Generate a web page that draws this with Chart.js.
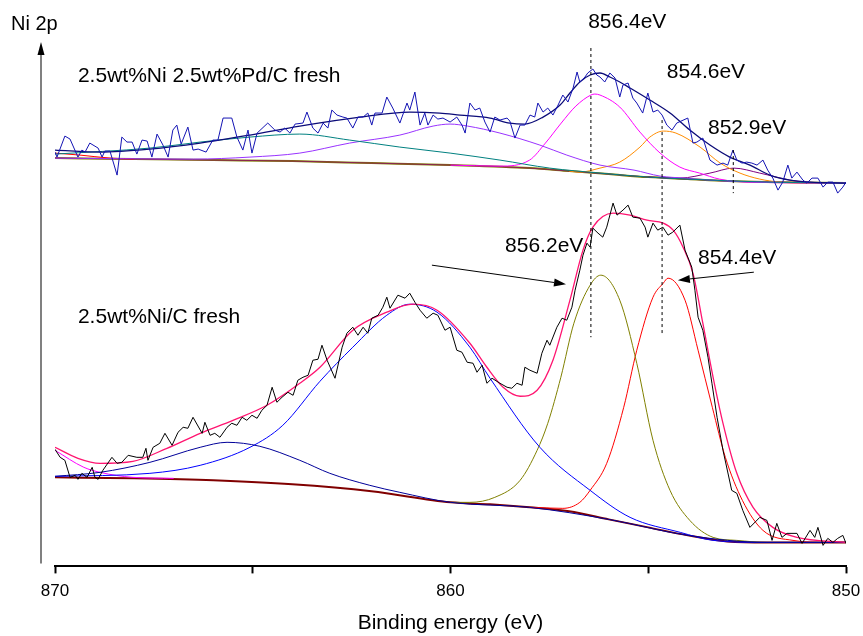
<!DOCTYPE html>
<html>
<head>
<meta charset="utf-8">
<script src="https://cdn.jsdelivr.net/npm/chart.js@4.4.0/dist/chart.umd.min.js"></script>
<style>
  html, body { margin: 0; padding: 0; background: #fff; }
</style>
</head>
<body>
<canvas id="xps" width="863" height="636"></canvas>
<script>
// --- x axis (binding energy, eV) ---
const xTicks = [870, 865, 860, 855, 850];

// --- Top spectrum: 2.5wt%Ni 2.5wt%Pd/C fresh ---
const topRawE = [
  870.00, 869.95, 869.75, 869.62, 869.42, 869.32, 869.24, 869.12, 868.91, 868.81,
  868.74, 868.61, 868.43, 868.31, 868.18, 868.05, 867.93, 867.80, 867.67, 867.55,
  867.42, 867.27, 867.14, 867.02, 866.92, 866.81, 866.64, 866.51, 866.38, 866.18,
  866.01, 865.88, 865.75, 865.53, 865.40, 865.25, 865.12, 865.02, 864.89, 864.62,
  864.44, 864.31, 864.19, 864.06, 863.93, 863.73, 863.63, 863.48, 863.35, 863.22,
  863.10, 863.00, 862.87, 862.72, 862.62, 862.47, 862.34, 862.21, 862.09, 861.99,
  861.91, 861.73, 861.61, 861.46, 861.28, 861.10, 861.03, 860.90, 860.77, 860.65,
  860.57, 860.44, 860.32, 860.19, 860.01, 859.84, 859.71, 859.63, 859.51, 859.38,
  859.26, 859.13, 859.00, 858.88, 858.75, 858.57, 858.50, 858.37, 858.24, 858.12,
  857.99, 857.87, 857.79, 857.66, 857.54, 857.41, 857.28, 857.16, 857.03, 856.90,
  856.80, 856.73, 856.60, 856.53, 856.40, 856.30, 856.22, 856.10, 855.97, 855.84,
  855.72, 855.64, 855.51, 855.39, 855.29, 855.14, 855.01, 854.88, 854.76, 854.65,
  854.53, 854.40, 854.28, 854.00, 853.87, 853.77, 853.62, 853.44, 853.26, 853.11,
  852.99, 852.86, 852.76, 852.63, 852.51, 852.38, 852.25, 852.10, 851.98, 851.85,
  851.72, 851.60, 851.47, 851.37, 851.24, 851.09, 850.99, 850.86, 850.71, 850.58,
  850.46, 850.33, 850.21, 850.08, 850.00
];
const topRawI = [
  414, 409, 430, 427, 409, 416, 414, 423, 418, 409,
  415, 415, 391, 429, 424, 424, 412, 426, 425, 409,
  432, 421, 409, 436, 441, 422, 439, 416, 417, 414,
  426, 426, 448, 448, 429, 416, 436, 413, 433, 443,
  436, 434, 438, 433, 442, 443, 454, 438, 433, 443,
  438, 456, 451, 449, 448, 438, 449, 449, 453, 441,
  453, 453, 469, 458, 443, 463, 456, 474, 441, 453,
  441, 451, 447, 448, 444, 449, 441, 433, 463, 456,
  458, 444, 434, 449, 446, 448, 445, 428, 441, 441,
  451, 449, 463, 454, 458, 451, 461, 471, 464, 478,
  494, 484, 489, 493, 497, 491, 489, 484, 493, 488,
  469, 481, 483, 468, 463, 453, 473, 454, 456, 451,
  441, 436, 443, 448, 423, 424, 428, 406, 401, 403,
  401, 416, 406, 403, 404, 403, 401, 406, 396, 388,
  376, 384, 401, 388, 394, 386, 383, 388, 388, 379,
  384, 384, 373, 379, 384
];
const topFitE = [870.00, 868.86, 867.60, 866.33, 865.07, 863.81, 862.29, 861.03, 860.27, 859.76,
  859.00, 858.50, 858.12, 857.66, 857.23, 856.98, 856.73, 856.47, 856.22, 855.97,
  855.72, 855.46, 854.96, 854.45, 853.95, 853.44, 852.94, 852.43, 851.92, 851.42, 850.91, 850.00];
const topFitI = [416, 414, 417, 423, 431, 440, 449, 454, 453, 451,
  448, 443, 442, 449, 461, 473, 484, 491, 493, 489,
  484, 478, 466, 453, 436, 421, 409, 401, 391, 386, 384, 383];
const topBaseE = [870, 868, 866, 864, 862, 860, 858, 857, 856, 855, 854, 853, 852, 850];
const topBaseI = [408, 407, 406, 405, 403, 401, 398, 395, 392, 389, 387, 385, 384, 383];
const topTealE = [870, 867.60, 866.33, 865.07, 863.81, 862.55, 861.28, 860.01, 858.75, 857.49, 856.22, 855, 854, 852, 850];
const topTealI = [412, 418, 424, 429, 432, 426, 419, 413, 406, 398, 393, 389, 387, 384, 383];
const topVioletE = [870, 866.5, 865.07, 863.81, 862.55, 861.28, 860.44, 860.01, 859.57, 858.75,
  857.74, 857.06, 856.22, 855.36, 854.70, 854.09, 853, 852, 850];
const topVioletI = [408, 407, 409, 413, 423, 431, 440, 442, 440, 433,
  421, 411, 401, 396, 390, 388, 385, 384, 383];
const topMagentaE = [860, 858.75, 858.0, 857.6, 857.2, 856.83, 856.45, 856.35, 856.22, 855.72,
  855.21, 854.70, 854.2, 853.7, 853.2, 852.5, 850];
const topMagentaI = [401, 400, 406, 423, 443, 460, 471, 472, 471, 459,
  434, 413, 399, 393, 387, 384, 383];
const topOrangeE = [857, 856.73, 856.22, 855.72, 855.21, 854.96, 854.62, 854.30, 853.69, 853.18,
  852.68, 852.18, 851.67, 851, 850];
const topOrangeI = [395, 394, 398, 404, 419, 429, 435, 433, 419, 403,
  393, 387, 384, 383, 383];
const topPurpleE = [855, 854.2, 853.44, 852.84, 852.18, 851.42, 851, 850];
const topPurpleI = [389, 388, 393, 398, 393, 386, 384, 383];
const topRedE = [870, 869.37, 868.61, 868];
const topRedI = [413, 411, 408, 407];

// --- Bottom spectrum: 2.5wt%Ni/C fresh ---
const botRawE = [
  870.00, 869.87, 869.75, 869.62, 869.49, 869.42, 869.32, 869.19, 869.06, 868.99,
  868.91, 868.79, 868.56, 868.43, 868.31, 868.15, 867.93, 867.78, 867.70, 867.65,
  867.52, 867.35, 867.22, 867.04, 866.89, 866.76, 866.64, 866.51, 866.28, 866.21,
  866.08, 865.96, 865.83, 865.65, 865.53, 865.40, 865.27, 865.15, 865.02, 864.89,
  864.77, 864.64, 864.51, 864.39, 864.26, 864.11, 863.98, 863.86, 863.73, 863.60,
  863.48, 863.35, 863.25, 863.12, 862.92, 862.74, 862.62, 862.47, 862.34, 862.21,
  862.09, 861.99, 861.83, 861.71, 861.61, 861.53, 861.33, 861.15, 861.03, 860.90,
  860.77, 860.60, 860.44, 860.32, 860.14, 860.01, 859.84, 859.71, 859.58, 859.43,
  859.33, 859.20, 859.08, 858.95, 858.75, 858.57, 858.45, 858.32, 858.19, 858.12,
  857.99, 857.81, 857.69, 857.56, 857.49, 857.31, 857.18, 857.06, 856.93, 856.85,
  856.73, 856.65, 856.55, 856.47, 856.40, 856.27, 856.15, 856.05, 855.89, 855.79,
  855.64, 855.51, 855.39, 855.21, 855.08, 855.01, 854.88, 854.76, 854.63, 854.50,
  854.38, 854.20, 854.07, 853.90, 853.82, 853.74, 853.62, 853.49, 853.39, 853.26,
  853.11, 852.89, 852.76, 852.61, 852.43, 852.18, 852.00, 851.87, 851.75, 851.62,
  851.49, 851.24, 851.11, 850.91, 850.79, 850.71, 850.58, 850.46, 850.33, 850.21,
  850.08, 850.00
];
const botRawI = [
  117, 109, 106, 89, 91, 87, 93, 89, 99, 89,
  87, 96, 109, 103, 104, 111, 109, 109, 118, 106,
  119, 123, 133, 121, 134, 139, 138, 149, 133, 144,
  131, 133, 129, 139, 143, 141, 149, 146, 151, 148,
  156, 161, 179, 164, 169, 174, 171, 186, 189, 191,
  206, 207, 221, 206, 188, 219, 233, 239, 231, 239,
  233, 248, 251, 259, 269, 258, 271, 268, 273, 264,
  256, 248, 253, 251, 236, 239, 216, 214, 204, 203,
  194, 201, 183, 188, 183, 179, 178, 183, 181, 199,
  196, 193, 213, 226, 221, 239, 248, 246, 259, 276,
  296, 311, 323, 319, 338, 333, 329, 339, 363, 351,
  356, 361, 349, 348, 339, 329, 343, 336, 339, 331,
  334, 341, 316, 299, 276, 249, 236, 209, 183, 149,
  116, 76, 73, 56, 39, 49, 46, 26, 43, 29,
  33, 33, 23, 36, 29, 39, 21, 28, 24, 28,
  31, 23
];
const botFitE = [870.00, 869.42, 868.86, 868.03, 867.17, 866.33, 865.50, 864.64, 863.81, 863.30,
  862.47, 861.61, 860.95, 860.34, 859.51, 859.08, 858.67, 858.24, 857.81, 857.41,
  856.98, 856.65, 856.40, 855.89, 855.46, 855.03, 854.62, 854.37, 854.12, 853.87,
  853.62, 853.36, 853.11, 852.76, 852.35, 851.85, 851.24, 850.00];
const botFitI = [119, 108, 103, 105, 118, 133, 146, 161, 183, 199,
  236, 254, 262, 256, 223, 199, 179, 170, 176, 206,
  266, 316, 339, 353, 351, 346, 343, 336, 319, 293,
  243, 189, 143, 93, 59, 39, 29, 24];
const botBaseE = [870, 868, 866, 864, 862, 860, 859, 858, 857, 856, 855, 854, 853, 852, 851, 850];
const botBaseI = [89, 88, 86, 82, 75, 64, 62, 59, 55, 47, 39, 31, 25, 24, 24, 24];
const botNavyE = [870, 868.86, 867.60, 866.33, 865.65, 864.82, 863.81, 863.05, 862.04, 861.28, 860, 858, 856, 854, 852, 850];
const botNavyI = [90, 94, 104, 119, 124, 120, 106, 93, 81, 74, 64, 59, 47, 31, 24, 24];
const botBlueE = [870, 867.60, 866.33, 865.07, 864.24, 863.30, 862.47, 861.61, 861.03, 860.34,
  859.51, 859.00, 857.74, 856.47, 855.46, 854.19, 853.36, 852.10, 850];
const botBlueI = [90, 93, 101, 119, 141, 185, 219, 251, 262, 254,
  219, 188, 119, 76, 49, 34, 26, 24, 24];
const botOliveE = [860, 859.51, 858.88, 858.24, 857.81, 857.54, 857.21, 856.88, 856.47, 856.20,
  855.72, 855.29, 854.88, 854.45, 853.95, 853.36, 852.76, 852, 850];
const botOliveI = [64, 64, 69, 86, 116, 143, 189, 243, 281, 291,
  266, 203, 126, 76, 46, 29, 26, 24, 24];
const botRedE = [858, 857.16, 856.73, 856.47, 856.05, 855.62, 855.29, 854.88, 854.62, 854.50,
  854.07, 853.74, 853.38, 853.05, 852.62, 852.10, 851.34, 850.5, 850];
const botRedI = [59, 58, 64, 76, 103, 159, 216, 269, 283, 288,
  266, 216, 159, 109, 66, 36, 26, 24, 24];
const botMagentaE = [870, 869.27, 868.86, 868.03, 867];
const botMagentaI = [116, 99, 94, 89, 88];

// peak position markers: energy, top and bottom intensity of the dashed line
const markerE = [856.45, 854.65, 852.85];
const markerTop = [518, 446, 416];
const markerBottom = [229, 233, 373];

const pts = (xs, ys) => xs.map((x, i) => ({ x: x, y: ys[i] }));

function curve(xs, ys, color, width, order, smooth) {
    return {
        data: pts(xs, ys),
        showLine: true,
        borderColor: color,
        borderWidth: width,
        pointRadius: 0,
        order: order,
        cubicInterpolationMode: smooth ? 'monotone' : 'default',
        tension: 0
    };
}

const datasets = [
    // raw spectra
    curve(topRawE, topRawI, '#1414b4', 1, 1, false),
    curve(botRawE, botRawI, '#000000', 1, 1, false),
    // envelopes
    curve(topFitE, topFitI, '#0c0c78', 1.3, 2, true),
    curve(botFitE, botFitI, '#ff1470', 1.3, 2, true),
    // components, top
    curve(topTealE, topTealI, '#008080', 1, 3, true),
    curve(topVioletE, topVioletI, '#9933ff', 1, 3, true),
    curve(topMagentaE, topMagentaI, '#ff00ff', 1, 3, true),
    curve(topOrangeE, topOrangeI, '#ff8c00', 1, 3, true),
    curve(topPurpleE, topPurpleI, '#800080', 1, 3, true),
    curve(topRedE, topRedI, '#ff0000', 1, 3, true),
    // components, bottom
    curve(botNavyE, botNavyI, '#000099', 1, 3, true),
    curve(botBlueE, botBlueI, '#0000ff', 1, 3, true),
    curve(botOliveE, botOliveI, '#808000', 1, 3, true),
    curve(botRedE, botRedI, '#ff0000', 1, 3, true),
    curve(botMagentaE, botMagentaI, '#ff00ff', 1, 3, true),
    // backgrounds
    curve(topBaseE, topBaseI, '#808000', 2, 4, true),
    curve(topBaseE, topBaseI, '#8b2252', 1, 3, true),
    curve(botBaseE, botBaseI, '#800000', 2, 4, true)
];

markerE.forEach((e, i) => {
    datasets.push({
        data: [{ x: e, y: markerTop[i] }, { x: e, y: markerBottom[i] }],
        showLine: true,
        borderColor: '#000',
        borderWidth: 1,
        borderDash: [3, 3],
        pointRadius: 0,
        order: 0
    });
});

// text and arrows placed in data coordinates
const noteText = ['856.4eV', '854.6eV', '852.9eV', '856.2eV', '854.4eV', '2.5wt%Ni 2.5wt%Pd/C fresh', '2.5wt%Ni/C fresh'];
const noteE = [856.52, 854.53, 853.49, 858.62, 853.74, 869.42, 869.42];
const noteI = [544, 494, 438, 320, 308, 490, 249];
const arrowFrom = [[860.47, 301], [852.33, 294]];
const arrowTo = [[857.08, 282], [854.25, 286]];

const decorations = {
    id: 'decorations',
    afterDatasetsDraw(chart) {
        const { ctx, chartArea, scales: { x, y } } = chart;
        ctx.save();

        // y axis with arrow head
        const ax = chartArea.left - 14;
        ctx.strokeStyle = '#808080';
        ctx.lineWidth = 2;
        ctx.beginPath();
        ctx.moveTo(ax, 54);
        ctx.lineTo(ax, chartArea.bottom - 3);
        ctx.stroke();
        ctx.fillStyle = '#000';
        ctx.beginPath();
        ctx.moveTo(ax, 42);
        ctx.lineTo(ax - 3.5, 55);
        ctx.lineTo(ax + 3.5, 55);
        ctx.closePath();
        ctx.fill();

        ctx.font = '20px "Liberation Sans", Arial, sans-serif';
        ctx.textBaseline = 'middle';
        ctx.textAlign = 'left';
        ctx.fillText('Ni 2p', 11, 24);

        ctx.font = '21px "Liberation Sans", Arial, sans-serif';
        noteText.forEach((t, i) => {
            ctx.fillText(t, x.getPixelForValue(noteE[i]), y.getPixelForValue(noteI[i]));
        });

        // arrows
        ctx.strokeStyle = '#000';
        ctx.lineWidth = 1;
        arrowFrom.forEach((f, i) => {
            const x0 = x.getPixelForValue(f[0]), y0 = y.getPixelForValue(f[1]);
            const x1 = x.getPixelForValue(arrowTo[i][0]), y1 = y.getPixelForValue(arrowTo[i][1]);
            const a = Math.atan2(y1 - y0, x1 - x0);
            const hl = 12, hw = 4;
            ctx.beginPath();
            ctx.moveTo(x0, y0);
            ctx.lineTo(x1 - hl * Math.cos(a), y1 - hl * Math.sin(a));
            ctx.stroke();
            ctx.beginPath();
            ctx.moveTo(x1, y1);
            ctx.lineTo(x1 - hl * Math.cos(a) + hw * Math.sin(a), y1 - hl * Math.sin(a) - hw * Math.cos(a));
            ctx.lineTo(x1 - hl * Math.cos(a) - hw * Math.sin(a), y1 - hl * Math.sin(a) + hw * Math.cos(a));
            ctx.closePath();
            ctx.fill();
        });
        ctx.restore();
    }
};

Chart.defaults.font.family = '"Liberation Sans", Arial, sans-serif';
Chart.defaults.color = '#000';

new Chart(document.getElementById('xps').getContext('2d'), {
    type: 'scatter',
    data: { datasets: datasets },
    options: {
        responsive: false,
        animation: false,
        layout: { padding: { left: 55, right: 17, top: 42, bottom: 0 } },
        plugins: { legend: { display: false }, tooltip: { enabled: false } },
        scales: {
            x: {
                type: 'linear',
                min: 850,
                max: 870,
                reverse: true,
                afterBuildTicks: (scale) => { scale.ticks = xTicks.map(v => ({ value: v })); },
                // keep the plot edges where the layout padding puts them
                afterFit: (scale) => { scale.paddingLeft = 0; scale.paddingRight = 0; },
                grid: { drawOnChartArea: false, drawTicks: true, tickLength: 7, tickWidth: 2, tickColor: '#000' },
                border: { display: true, color: '#000', width: 2 },
                ticks: {
                    padding: 8,
                    color: '#000',
                    font: { size: 17 },
                    maxRotation: 0,
                    autoSkip: false,
                    callback: (v) => (v % 10 === 0 ? String(v) : '')
                },
                title: {
                    display: true,
                    text: 'Binding energy (eV)',
                    color: '#000',
                    font: { size: 21 },
                    padding: { top: 1, bottom: 0 }
                }
            },
            y: { display: false, min: 0, max: 524 }
        }
    },
    plugins: [decorations]
});
</script>
</body>
</html>
